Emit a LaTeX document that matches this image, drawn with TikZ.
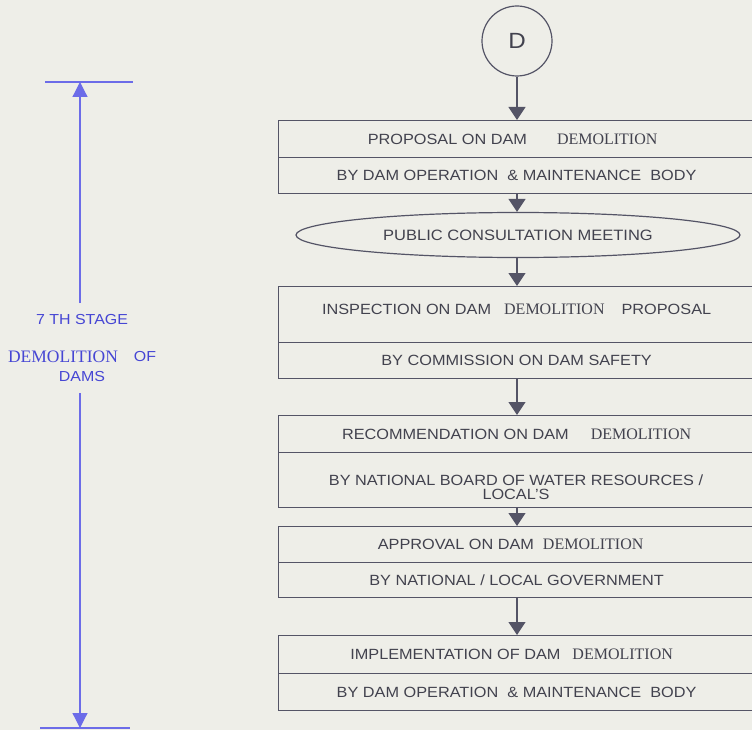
\documentclass[tikz,border=0pt]{standalone}
\usepackage{fontspec}
\setmainfont{Liberation Sans}[FakeStretch=1.1]
\newfontfamily\serifdem{Liberation Serif}
\newcommand{\dem}{{\fontsize{16}{16}\selectfont\serifdem DEMOLITION}}
\usetikzlibrary{arrows.meta,shapes.geometric}
\definecolor{bg}{RGB}{238,238,232}
\definecolor{ln}{RGB}{84,84,102}
\definecolor{tx}{RGB}{66,66,78}
\definecolor{bl}{RGB}{108,108,232}
\definecolor{bltx}{RGB}{70,70,212}
\tikzset{
  row/.style={draw=ln, line width=1.2pt, minimum width=476pt, inner sep=0pt,
    text=tx, font=\fontsize{14.8}{14.8}\selectfont, anchor=north west, align=center},
  rowtext/.style={inner sep=0pt, text=tx, font=\fontsize{14.8}{13.5}\selectfont, align=center},
  flow/.style={draw=ln, line width=1.2pt, -{Triangle[width=17pt,length=13pt]}},
  dimarrow/.style={draw=bl, line width=1.2pt, -{Triangle[width=15pt,length=15pt]}},
  dimline/.style={draw=bl, line width=1.2pt},
  bluetext/.style={text=bltx, inner sep=0pt, font=\fontsize{14.5}{14.5}\selectfont},
}
\begin{document}
\begin{tikzpicture}[x=1pt,y=-1pt]
\fill[bg] (0,0) rectangle (752,730);
\useasboundingbox (0,0) rectangle (752,730);

% start circle
\node[circle, draw=ln, line width=1.2pt, minimum size=70pt, inner sep=0pt, text=tx,
      font=\fontsize{22}{22}\selectfont] (circ) at (517,41) {D};

% box 1
\node[row, minimum height=37pt] (b1a) at (278,120) {\hspace*{-8pt}PROPOSAL ON DAM\hspace{30pt}\dem};
\node[row, minimum height=36pt] (b1b) at (278,157) {BY DAM OPERATION \ \& MAINTENANCE \ BODY};

% ellipse
\node[ellipse, draw=ln, line width=1.2pt, minimum width=444pt, minimum height=45pt, inner sep=0pt,
      text=tx, font=\fontsize{15}{15}\selectfont] (pub) at (518,235) {PUBLIC CONSULTATION MEETING};

% box 2
\node[row, minimum height=56pt] (b2a) at (278,286) {\raisebox{10pt}{INSPECTION ON DAM\hspace{13pt}\dem\hspace{17pt}PROPOSAL}};
\node[row, minimum height=36pt] (b2b) at (278,342) {BY COMMISSION ON DAM SAFETY};

% box 3
\node[row, minimum height=37pt] (b3a) at (278,415) {RECOMMENDATION ON DAM\hspace{22pt}\dem};
\node[row, minimum height=55pt] (b3b) at (278,452) {};
\node[rowtext] (b3bt) at (516,487) {BY NATIONAL BOARD OF WATER RESOURCES /\\LOCAL'S};

% box 4
\node[row, minimum height=36pt] (b4a) at (278,526) {\hspace*{-12pt}APPROVAL ON DAM\hspace{9pt}\dem};
\node[row, minimum height=35pt] (b4b) at (278,562) {BY NATIONAL / LOCAL GOVERNMENT};

% box 5
\node[row, minimum height=38pt] (b5a) at (278,635) {\hspace*{-10pt}IMPLEMENTATION OF DAM\hspace{12pt}\dem};
\node[row, minimum height=37pt] (b5b) at (278,673) {BY DAM OPERATION \ \& MAINTENANCE \ BODY};

% connectors
\draw[flow] (circ.south) -- (circ.south |- b1a.north);
\draw[flow] (circ.south |- b1b.south) -- (circ.south |- pub.north);
\draw[flow] (circ.south |- pub.south) -- (circ.south |- b2a.north);
\draw[flow] (circ.south |- b2b.south) -- (circ.south |- b3a.north);
\draw[flow] (circ.south |- b3b.south) -- (circ.south |- b4a.north);
\draw[flow] (circ.south |- b4b.south) -- (circ.south |- b5a.north);

% left dimension
\coordinate (dtop) at (80,82);
\coordinate (dbot) at (80,728);
\coordinate (dtl) at (45,82);
\coordinate (dtr) at (133,82);
\coordinate (dbl) at (40,728);
\coordinate (dbr) at (130,728);
\coordinate (gapt) at (80,303);
\coordinate (gapb) at (80,393);
\draw[dimline] (dtl) -- (dtr);
\draw[dimline] (dbl) -- (dbr);
\draw[dimarrow] (gapt) -- (dtop);
\draw[dimarrow] (gapb) -- (dbot);

\node[bluetext] (t1) at (82,320) {7 TH STAGE};
\node[bluetext, font=\fontsize{17.5}{17.5}\selectfont\serifdem] (t2) at (63,357) {DEMOLITION};
\node[bluetext] (t3) at (145,357) {OF};
\node[bluetext] (t4) at (82,377) {DAMS};
\end{tikzpicture}
\end{document}
